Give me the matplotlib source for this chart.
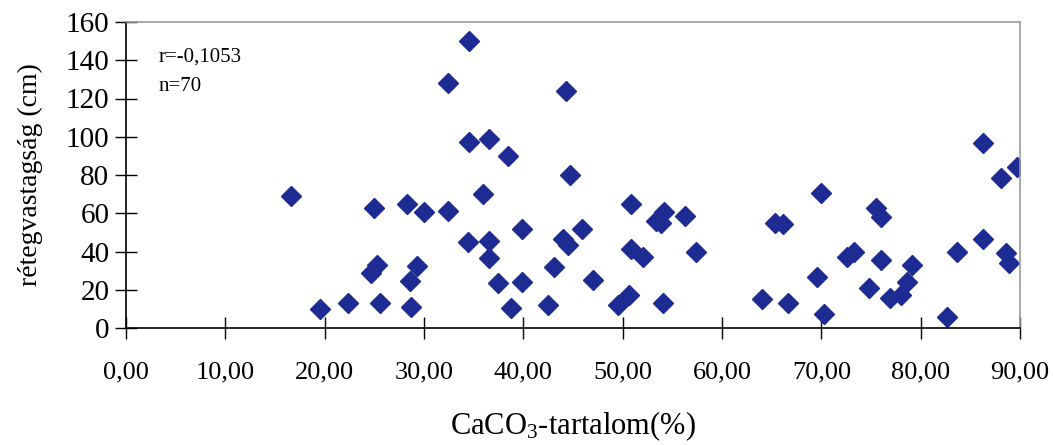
import matplotlib
matplotlib.use("Agg")
import matplotlib.pyplot as plt
from matplotlib.ticker import FixedLocator

caco3 = [16.6, 19.5, 22.3, 24.7, 25.3, 25.6, 25.0, 28.3, 28.6, 28.7,
         29.3, 30.0, 32.4, 32.4, 34.5, 34.5, 34.4, 35.9, 36.5, 36.5,
         36.5, 37.4, 38.5, 38.8, 39.9, 39.9, 42.5, 43.1, 44.0, 44.3,
         44.5, 44.7, 45.9, 47.0, 49.5, 50.6, 50.8, 50.8, 52.0, 53.4,
         53.9, 54.2, 54.1, 56.3, 57.4, 64.0, 65.3, 66.1, 66.6, 70.0,
         69.6, 70.3, 72.6, 73.3, 74.8, 75.5, 76.0, 76.0, 76.9, 78.0,
         78.6, 79.1, 82.7, 83.7, 86.3, 86.3, 88.1, 88.6, 88.9, 89.7]
thickness = [69, 10, 13, 29, 33, 13, 63, 65, 24.5, 11,
             32.5, 60.5, 61, 128, 150, 97, 45, 70, 99, 45.4,
             36.6, 23.5, 90, 10.4, 51.7, 24, 12, 32, 46.5, 124,
             43.3, 80, 52, 25, 12, 17, 64.8, 41.3, 37, 56,
             54.8, 60.6, 13, 58.5, 39.7, 15, 54.8, 54.3, 13, 70.5,
             26.6, 7.3, 37, 40, 20.8, 63, 58, 35.5, 15.7, 17.2,
             24, 32.9, 5.7, 39.7, 46.5, 96.6, 78.3, 39, 34, 84]

xticks = [0, 10, 20, 30, 40, 50, 60, 70, 80, 90]
xticklabels = ["0,00", "10,00", "20,00", "30,00", "40,00", "50,00",
               "60,00", "70,00", "80,00", "90,00"]
yticks = [0, 20, 40, 60, 80, 100, 120, 140, 160]
annot = ["r=-0,1053", "n=70"]

plt.rcParams['font.family'] = ['Liberation Serif', 'DejaVu Serif']
plt.rcParams['mathtext.fontset'] = 'custom'
plt.rcParams['mathtext.rm'] = 'Liberation Serif'
plt.rcParams['mathtext.it'] = 'Liberation Serif:italic'
plt.rcParams['mathtext.bf'] = 'Liberation Serif:bold'

fig = plt.figure(figsize=(10.53, 4.45), dpi=100)
ax = fig.add_axes([126/1053, 1 - 328/445, 894/1053, 306/445])

ax.plot(caco3, thickness, linestyle='none', marker='D', markersize=10.5,
        color='#1d2b92', markeredgecolor='#1d2b92')

ax.set_xlim(0, 90)
ax.set_ylim(0, 160)
ax.xaxis.set_major_locator(FixedLocator(xticks))
ax.set_xticklabels(xticklabels)
ax.yaxis.set_major_locator(FixedLocator(yticks))
ax.set_yticklabels([str(v) for v in yticks])

ax.tick_params(axis='both', direction='inout', length=16, width=1.0,
               colors='black')
ax.tick_params(axis='x', pad=16, labelsize=19)
ax.tick_params(axis='y', pad=4, labelsize=21)

for s in ['left', 'bottom']:
    ax.spines[s].set_color('black')
    ax.spines[s].set_linewidth(1.2)
for s in ['top', 'right']:
    ax.spines[s].set_color('#999999')
    ax.spines[s].set_linewidth(1.2)

ax.set_xlabel(r"CaCO$_{\mathrm{3}}$-tartalom(%)", fontsize=22, labelpad=19)
ax.set_ylabel("rétegvastagság (cm)", fontsize=20, labelpad=16)

ax.text(0.036, 0.885, annot[0], transform=ax.transAxes, fontsize=15,
        va='center', ha='left')
ax.text(0.036, 0.79, annot[1], transform=ax.transAxes, fontsize=15,
        va='center', ha='left')

fig.savefig("out.png", dpi=100)
